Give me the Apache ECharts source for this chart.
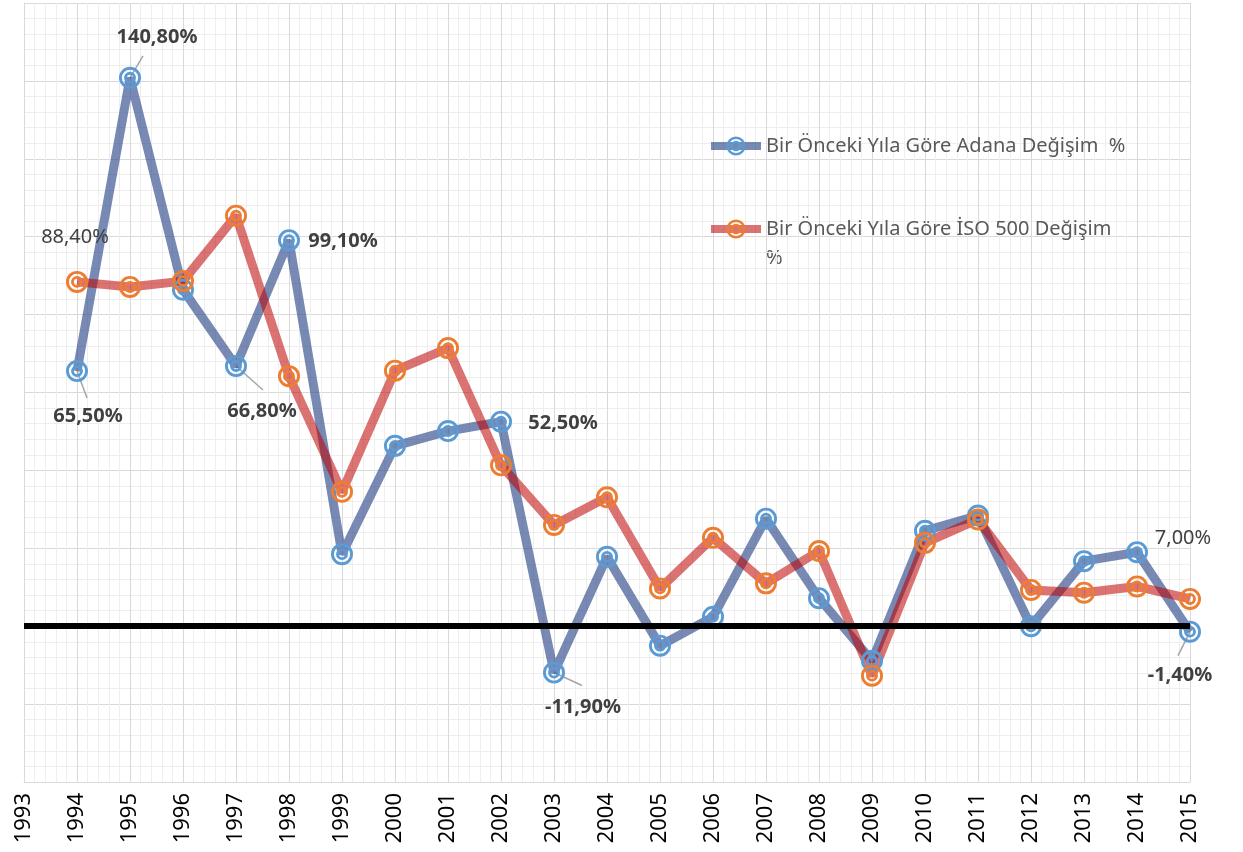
<!DOCTYPE html>
<html>
<head>
<meta charset="utf-8">
<script src="https://cdn.jsdelivr.net/npm/echarts@6/dist/echarts.min.js"></script>
<style>
  html, body { margin: 0; padding: 0; background: #fff; }
  #chart { width: 1243px; height: 852px; }
</style>
</head>
<body>
<div id="chart"></div>
<script>
const years = [1994, 1995, 1996, 1997, 1998, 1999, 2000, 2001, 2002, 2003, 2004,
  2005, 2006, 2007, 2008, 2009, 2010, 2011, 2012, 2013, 2014, 2015]
const adana = [65.5, 140.8, 86.4, 66.8, 99.1, 18.5, 46.3, 50.1, 52.5, -11.9, 17.8,
  -5.0, 2.4, 27.6, 7.2, -8.9, 24.5, 28.4, 0.0, 16.7, 19.0, -1.4]
const iso500 = [88.4, 87.1, 88.6, 105.4, 64.2, 34.5, 65.6, 71.4, 41.3, 26.0, 33.1,
  9.7, 22.7, 11.0, 19.3, -12.7, 21.4, 27.4, 9.3, 8.6, 10.2, 7.0]
const adanaLabelYears = [1994, 1995, 1997, 1998, 2002, 2003, 2015]
const isoLabelYears = [1994, 2015]
const leaderYears = [1994, 1995, 1997, 2003, 2015]

const names = ['Bir Önceki Yıla Göre Adana Değişim  %', 'Bir Önceki Yıla Göre İSO 500 Değişim %']

// label offsets from point centre (px)
const labelPos = {
  0: {
    1994: [11, 45], 1995: [27, -40], 1997: [26, 45], 1998: [54, 1],
    2002: [62, 2], 2003: [29, 35], 2015: [-10, 44],
  },
  1: { 1994: [-2, -45], 2015: [-7, -61] },
}
// leader line end, relative to point centre (px)
const leaderEnd = { 1994: [10, 27], 1995: [13, -22], 1997: [27, 24], 2003: [28, 13], 2015: [-12, 24] }

// double ring marker
const ring = 'path://M0 10A10 10 0 1 1 20 10A10 10 0 1 1 0 10ZM2.6 10A7.4 7.4 0 1 0 17.4 10A7.4 7.4 0 1 0 2.6 10Z' +
  'M4.6 10A5.4 5.4 0 1 1 15.4 10A5.4 5.4 0 1 1 4.6 10ZM7.2 10A2.8 2.8 0 1 0 12.8 10A2.8 2.8 0 1 0 7.2 10Z'

const fmt = (v) => v.toFixed(2).replace('.', ',') + '%'

function buildData(s, values, labelled) {
  return years.map((y, i) => ({
    value: [y, values[i]],
    label: { show: labelled.includes(y), fontWeight: s === 0 ? 'bold' : 'normal' },
  }))
}

const chart = echarts.init(document.getElementById('chart'))

const legendText = { color: '#595959', fontSize: 20, fontFamily: 'Noto Sans' }

const lineSeries = [0, 1].map((s) => ({
  name: names[s],
  type: 'line',
  data: buildData(s, s === 0 ? adana : iso500, s === 0 ? adanaLabelYears : isoLabelYears),
  symbol: ring,
  symbolSize: 22,
  showAllSymbol: true,
  lineStyle: { color: s === 0 ? '#2f4b8a' : '#c00000', width: 9, opacity: s === 0 ? 0.65 : 0.55 },
  itemStyle: { color: s === 0 ? '#5b9bd5' : '#ed7d31' },
  label: {
    position: 'inside',
    color: '#404040',
    fontSize: 20,
    formatter: (p) => fmt(p.value[1]),
  },
  labelLayout: (p) => {
    const o = labelPos[s][years[p.dataIndex]]
    return o ? { dx: o[0], dy: o[1] } : {}
  },
  markLine: s === 0 ? {
    silent: true,
    symbol: 'none',
    label: { show: false },
    lineStyle: { color: '#000', width: 6, type: 'solid' },
    data: [{ yAxis: 0 }],
  } : undefined,
}))

chart.setOption({
  animation: false,
  textStyle: { fontFamily: 'Noto Sans' },
  grid: { left: 24, right: 53, top: 3, bottom: 70 },
  legend: [
    {
      data: [names[0]],
      left: 707, top: 136, padding: 0,
      itemWidth: 50, itemHeight: 24,
      lineStyle: { width: 8 },
      textStyle: legendText,
    },
    {
      data: [names[1]],
      left: 707, top: 219, padding: 0,
      itemWidth: 50, itemHeight: 24,
      lineStyle: { width: 8 },
      formatter: () => 'Bir Önceki Yıla Göre İSO 500 Değişim',
      textStyle: legendText,
    },
  ],
  graphic: [
    { type: 'text', left: 766, top: 248, style: { text: '%', fill: '#595959', font: '20px "Noto Sans"' } },
  ],
  xAxis: {
    type: 'value',
    min: 1993, max: 2015, interval: 1,
    axisLine: { onZero: false, lineStyle: { color: '#d9d9d9', width: 1 } },
    axisTick: { show: false },
    axisLabel: { rotate: 90, color: '#000', fontSize: 22, margin: 11, formatter: (v) => String(v) },
    splitLine: { show: true, lineStyle: { color: '#d9d9d9', width: 1 } },
    minorTick: { show: false, splitNumber: 5 },
    minorSplitLine: { show: true, lineStyle: { color: '#eeeeee', width: 1 } },
  },
  yAxis: {
    type: 'value',
    min: -40, max: 160, interval: 20,
    axisLine: { show: true, lineStyle: { color: '#d9d9d9' } },
    axisTick: { show: false },
    axisLabel: { show: false },
    splitLine: { lineStyle: { color: '#d9d9d9', width: 1 } },
    minorTick: { show: false, splitNumber: 5 },
    minorSplitLine: { show: true, lineStyle: { color: '#eeeeee', width: 1 } },
  },
  series: [
    ...lineSeries,
    {
      type: 'custom',
      silent: true,
      z: 3,
      data: leaderYears.map((y) => [y, adana[years.indexOf(y)]]),
      renderItem: (params, api) => {
        const p = api.coord([api.value(0), api.value(1)])
        const e = leaderEnd[api.value(0)]
        return {
          type: 'line',
          shape: { x1: p[0], y1: p[1], x2: p[0] + e[0], y2: p[1] + e[1] },
          style: { stroke: '#a6a6a6', lineWidth: 1.5 },
        }
      },
    },
  ],
})
</script>
</body>
</html>
